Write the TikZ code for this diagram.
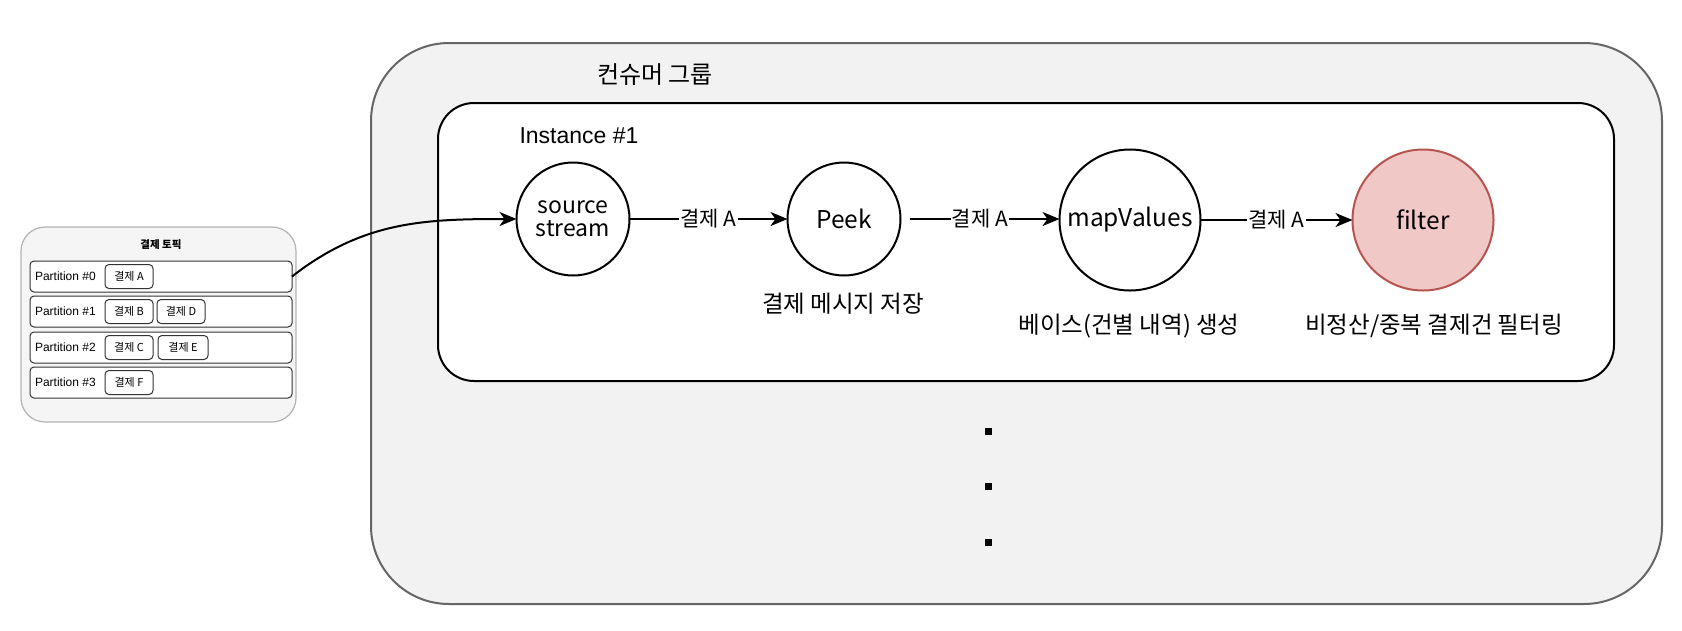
\documentclass[tikz,border=0pt]{standalone}
\usepackage{fontspec}
\setmainfont{Noto Sans CJK KR}
\newfontfamily\helv{Liberation Sans}
\newfontfamily\kor{Noto Sans CJK KR}
\usetikzlibrary{arrows.meta}
\definecolor{grpfill}{HTML}{F2F2F2}
\definecolor{grpdraw}{HTML}{666666}
\definecolor{topicfill}{HTML}{F5F5F5}
\definecolor{topicdraw}{HTML}{B3B3B3}
\definecolor{redfill}{HTML}{F0C8C6}
\definecolor{reddraw}{HTML}{B85450}
\begin{document}
\begin{tikzpicture}[x=1pt,y=-1pt,
  every node/.style={inner sep=0pt, outer sep=0pt},
  grpbox/.style={draw=grpdraw, fill=grpfill, line width=2pt, rounded corners=78pt, anchor=north west},
  instbox/.style={draw=black, fill=white, line width=2pt, rounded corners=36pt, anchor=north west},
  topicbox/.style={draw=topicdraw, fill=topicfill, line width=1.2pt, rounded corners=24pt, anchor=north west},
  rowbox/.style={draw=black!80, fill=white, line width=1pt, rounded corners=4pt, anchor=north west, minimum width=262pt, minimum height=31pt},
  itembox/.style={draw=black!80, fill=white, line width=1pt, rounded corners=4pt, minimum width=48pt, minimum height=24pt, font=\kor\fontsize{11}{13}\selectfont},
  ptext/.style={anchor=west, font=\helv\fontsize{12}{14}\selectfont},
  proc/.style={circle, draw=black, fill=white, line width=2pt, font=\fontsize{24.5}{28}\selectfont, align=center},
  lbl/.style={font=\fontsize{23.5}{28}\selectfont},
  elbl/.style={fill=white, inner sep=1pt, font=\fontsize{21}{25}\selectfont},
  flow/.style={draw=black, line width=2pt, -{Stealth[length=17pt,width=14pt,inset=5pt]}},
  dotsq/.style={fill=black, minimum size=7pt}
]
\useasboundingbox (0,0) rectangle (1682,630);

% consumer group
\node[grpbox, minimum width=1291pt, minimum height=561pt] (group) at (371,43) {};
\node[font=\fontsize{24}{28}\selectfont] (grptitle) at (655,75) {컨슈머 그룹};

% instance
\node[instbox, minimum width=1176pt, minimum height=278pt] (inst) at (438,103) {};
\node[anchor=base, font=\helv\fontsize{23}{27}\selectfont] (insttitle) at (579,143) {Instance \#1};

% topic
\node[topicbox, minimum width=275pt, minimum height=195pt] (topic) at (21,227) {};
\node[font=\kor\bfseries\fontsize{10.5}{12}\selectfont] (topictitle) at (161,245) {결제 토픽};

\node[rowbox] (p0) at (30,261) {};
\node[rowbox] (p1) at (30,296) {};
\node[rowbox] (p2) at (30,332) {};
\node[rowbox] (p3) at (30,367) {};

\node[ptext] (t0) at (35,276.5) {Partition \#0};
\node[ptext] (t1) at (35,311.5) {Partition \#1};
\node[ptext] (t2) at (35,347.5) {Partition \#2};
\node[ptext] (t3) at (35,382.5) {Partition \#3};

\node[itembox] (ia) at (129,276.5) {결제 A};
\node[itembox] (ib) at (129,311.5) {결제 B};
\node[itembox] (id) at (181,311.5) {결제 D};
\node[itembox] (ic) at (129,347.5) {결제 C};
\node[itembox, minimum width=50pt] (ie) at (183,347.5) {결제 E};
\node[itembox] (if) at (129,382.5) {결제 F};

% processors
\node[proc, minimum size=113pt, font=\fontsize{23}{26}\selectfont] (src) at (573,219) {source\\[-3pt]stream};
\node[proc, minimum size=113pt] (peek) at (844,219) {Peek};
\node[proc, minimum size=141pt] (map) at (1130,220) {mapValues};
\node[proc, minimum size=141pt, fill=redfill, draw=reddraw] (filt) at (1423,220) {filter};

\node[lbl] (l1) at (843,304) {결제 메시지 저장};
\node[lbl] (l2) at (1129,326) {베이스(건별 내역) 생성};
\node[lbl] (l3) at (1434,326) {비정산/중복 결제건 필터링};

% connectors
\draw[flow] (p0.east) to[out=38,in=180] (src.west);
\draw[flow] (src.east) -- node[elbl] {결제 A} (peek.west);
\draw[flow, shorten <=9pt] (peek.east) -- node[elbl] {결제 A} (map.west |- peek.east);
\draw[flow] (map.east) -- node[elbl] {결제 A} (filt.west);

% dots
\node[dotsq] (d1) at (988,431) {};
\node[dotsq] (d2) at (988,486) {};
\node[dotsq] (d3) at (988,542) {};
\end{tikzpicture}
\end{document}
